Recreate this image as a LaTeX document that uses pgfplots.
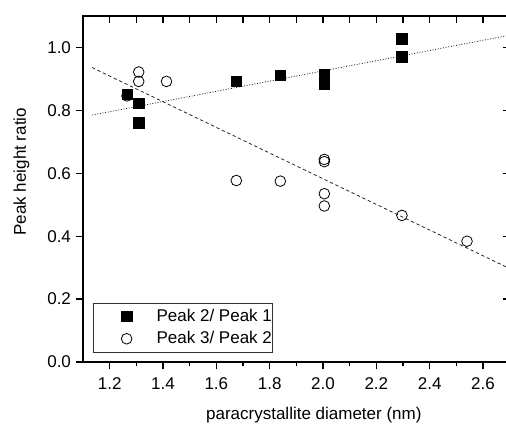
\documentclass[border=0pt]{standalone}
\usepackage{fontspec}
\setmainfont{Liberation Sans}
\usepackage{pgfplots}
\pgfplotsset{compat=1.18}
\newcommand{\fs}{\fontsize{12.75}{15.3}\selectfont}
\begin{document}
\begin{tikzpicture}
\useasboundingbox (-62.25pt,-46.5pt) rectangle (317.25pt,271.5pt);
\begin{axis}[
  at={(0,0)}, anchor=south west,
  scale only axis, width=320pt, height=259.5pt,
  xmin=1.1, xmax=2.7, ymin=0, ymax=1.1,
  xtick={1.2,1.4,1.6,1.8,2.0,2.2,2.4,2.6},
  minor xtick={1.3,1.5,1.7,1.9,2.1,2.3,2.5},
  ytick={0,0.2,0.4,0.6,0.8,1.0},
  tick pos=left, tick align=outside,
  major tick length=5.5pt, minor tick length=3pt,
  every tick/.style={black, line width=0.9pt},
  axis line style={line width=0.9pt},
  xticklabel style={yshift=-2.5pt, /pgf/number format/fixed, /pgf/number format/fixed zerofill, /pgf/number format/precision=1, /pgf/number format/assume math mode=true},
  yticklabel style={/pgf/number format/fixed, /pgf/number format/fixed zerofill, /pgf/number format/precision=1, /pgf/number format/assume math mode=true},
  tick label style={font=\fs},
  label style={font=\fs},
  xlabel={paracrystallite diameter (nm)},
  ylabel={Peak height ratio},
  xlabel style={at={(axis description cs:0.541,-0.165)}, anchor=base},
  ylabel style={at={(axis description cs:-0.1336,0.55)}, anchor=base},
  legend style={at={(0.024,0.028)}, anchor=south west, draw=black!80, line width=0.6pt,
    font=\fs, inner xsep=0pt, inner ysep=3pt, row sep=3pt,
    nodes={inner xsep=0pt, inner ysep=1.5pt}},
  legend cell align=left,
  legend image code/.code={\path[draw=none, fill=none] (0pt,-4pt) rectangle (47.25pt,4pt);
    \draw[#1] plot coordinates {(24.75pt,0pt)};},
]
\addplot[only marks, mark=square*, mark size=3.9pt, mark options={fill=black, draw=black, line width=0.4pt}] coordinates {
(1.265,0.851) (1.309,0.823) (1.309,0.761) (1.675,0.892) (1.840,0.912)
(2.005,0.915) (2.005,0.900) (2.005,0.883) (2.296,1.027) (2.296,0.971)
};
\addlegendentry{Peak 2/ Peak 1\hspace{10.5pt}}
\addplot[only marks, mark=o, mark size=4pt, mark options={fill=white, draw=black, line width=0.6pt}] coordinates {
(1.265,0.846) (1.309,0.922) (1.309,0.892) (1.413,0.892) (1.675,0.577)
(1.840,0.575) (2.005,0.644) (2.005,0.637) (2.005,0.535) (2.005,0.496)
(2.296,0.466) (2.540,0.384)
};
\addlegendentry{Peak 3/ Peak 2\hspace{10.5pt}}
\addplot[forget plot, no marks, black!85, line width=0.6pt, dash pattern=on 0.7pt off 1.3pt] coordinates {(1.134,0.785) (2.7,1.039)};
\addplot[forget plot, no marks, black!85, line width=0.6pt, dash pattern=on 2.5pt off 2pt] coordinates {(1.134,0.936) (2.7,0.297)};
\end{axis}
\begin{axis}[
  at={(0,0)}, anchor=south west,
  scale only axis, width=320pt, height=259.5pt,
  xmin=1.1, xmax=2.7, ymin=0, ymax=1.1,
  xtick={1.2,1.3,1.4,1.5,1.6,1.7,1.8,1.9,2.0,2.1,2.2,2.3,2.4,2.5,2.6},
  ytick={0,0.2,0.4,0.6,0.8,1.0},
  xticklabels={}, yticklabels={},
  tick pos=right, tick align=inside,
  major tick length=5pt,
  every tick/.style={black, line width=0.9pt},
  axis line style={line width=0.9pt},
]
\end{axis}
\end{tikzpicture}
\end{document}
